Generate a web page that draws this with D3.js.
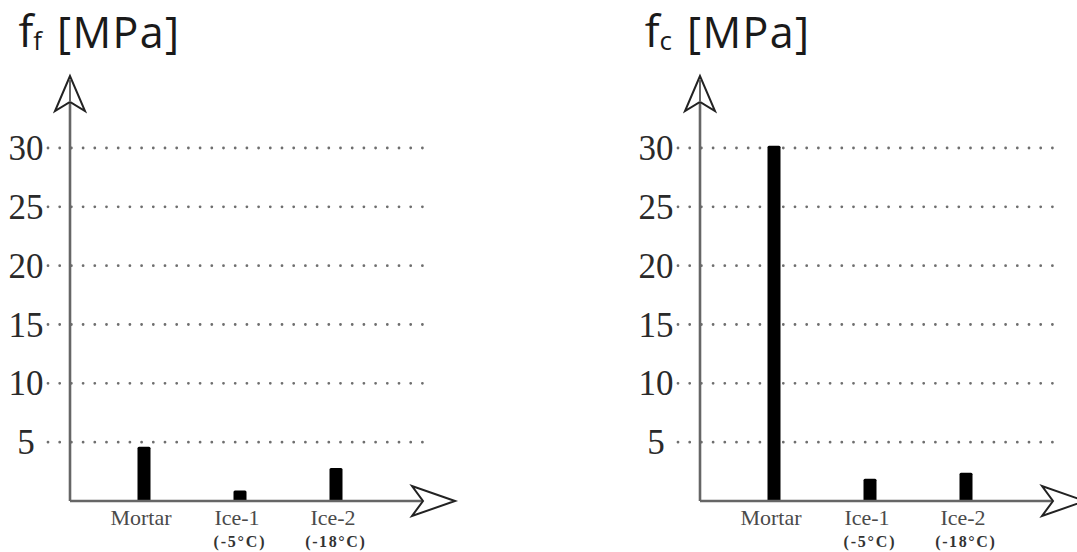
<!DOCTYPE html>
<html>
<head>
<meta charset="utf-8">
<script src="https://cdn.jsdelivr.net/npm/d3@7"></script>
<style>
  html, body { margin: 0; padding: 0; background: #fff; }
  svg { display: block; }
</style>
</head>
<body>
<svg id="chart" width="1077" height="552"></svg>
<script>
// Strength of mortar and two ice types (MPa)
const categories = ["Mortar", "Ice-1", "Ice-2"];
const categoryNotes = ["", "(-5°C)", "(-18°C)"];
const flexuralValues = [4.6, 0.9, 2.8];      // f_f
const compressiveValues = [30.2, 1.9, 2.4];  // f_c
const yTicks = [5, 10, 15, 20, 25, 30];

const svg = d3.select("#chart");

const y = d3.scaleLinear().domain([0, 30]).range([501, 148]);
const x = d3.scalePoint().domain(categories).range([74, 266]);

const panels = [
  { originX: 70, sub: "f", values: flexuralValues },
  { originX: 700, sub: "c", values: compressiveValues }
];

const axisColor = "#666";

panels.forEach(p => {
  const g = svg.append("g").attr("transform", `translate(${p.originX},0)`);

  // title  f_x [MPa]
  const t = g.append("text")
    .attr("x", -28).attr("y", 47)
    .attr("text-anchor", "end")
    .attr("font-family", "'Open Sans', sans-serif")
    .attr("fill", "#1a1a1a");
  t.append("tspan").attr("font-size", 44).text("f");
  t.append("tspan").attr("font-size", 26).attr("dy", 3).text(p.sub);

  g.append("text")
    .attr("x", -13).attr("y", 48)
    .attr("font-family", "'Open Sans', sans-serif")
    .attr("font-size", 43)
    .attr("fill", "#1a1a1a")
    .attr("textLength", 122)
    .attr("lengthAdjust", "spacing")
    .text("[MPa]");

  // dotted grid lines
  g.selectAll("line.grid").data(yTicks).join("line")
    .attr("class", "grid")
    .attr("x1", -22).attr("x2", 353)
    .attr("y1", d => y(d)).attr("y2", d => y(d))
    .attr("stroke", "#6e6e6e")
    .attr("stroke-width", 2.8)
    .attr("stroke-linecap", "round")
    .attr("stroke-dasharray", "0 11.7");

  // tick labels
  g.selectAll("text.tick").data(yTicks).join("text")
    .attr("class", "tick")
    .attr("x", -44)
    .attr("y", d => y(d) + 12)
    .attr("text-anchor", "middle")
    .attr("font-family", "'Liberation Serif', 'Times New Roman', serif")
    .attr("font-size", 35)
    .attr("fill", "#2a2a2a")
    .text(d => d);

  // bars
  g.selectAll("rect.bar").data(p.values).join("rect")
    .attr("class", "bar")
    .attr("x", (d, i) => x(categories[i]) - 6.5)
    .attr("width", 13)
    .attr("y", d => y(d))
    .attr("height", d => y(0) - y(d))
    .attr("rx", 1.5)
    .attr("fill", "#000");

  // axes
  g.append("line")
    .attr("x1", 0).attr("x2", 0)
    .attr("y1", 102).attr("y2", y(0))
    .attr("stroke", axisColor).attr("stroke-width", 2.6);
  g.append("line")
    .attr("x1", 0).attr("x2", 353)
    .attr("y1", y(0)).attr("y2", y(0))
    .attr("stroke", axisColor).attr("stroke-width", 2.6);

  // open arrow heads
  const arrowStyle = sel => sel
    .attr("fill", "#fff")
    .attr("stroke", "#222")
    .attr("stroke-width", 2)
    .attr("stroke-linejoin", "miter");
  g.append("path")
    .attr("d", "M0,76 L-15,111 L0,102 L15,111 Z")
    .call(arrowStyle);
  g.append("path")
    .attr("d", `M385,${y(0)} L342,${y(0) - 15} L353,${y(0)} L342,${y(0) + 15} Z`)
    .call(arrowStyle);
  g.append("line")
    .attr("x1", 0).attr("x2", 0)
    .attr("y1", 80).attr("y2", 102)
    .attr("stroke", axisColor).attr("stroke-width", 2);

  // category labels
  g.selectAll("text.cat").data(categories).join("text")
    .attr("class", "cat")
    .attr("x", d => x(d) - 3)
    .attr("y", 525)
    .attr("text-anchor", "middle")
    .attr("font-family", "'Liberation Serif', 'Times New Roman', serif")
    .attr("font-size", 22)
    .attr("fill", "#4a4a4a")
    .text(d => d);

  g.selectAll("text.note").data(categoryNotes).join("text")
    .attr("class", "note")
    .attr("x", (d, i) => x(categories[i]) - 1)
    .attr("y", 547)
    .attr("text-anchor", "middle")
    .attr("font-family", "'Liberation Serif', 'Times New Roman', serif")
    .attr("font-weight", "bold")
    .attr("font-size", 16)
    .attr("fill", "#333")
    .attr("textLength", d => d.length * 8.5)
    .attr("lengthAdjust", "spacing")
    .text(d => d);
});
</script>
</body>
</html>
